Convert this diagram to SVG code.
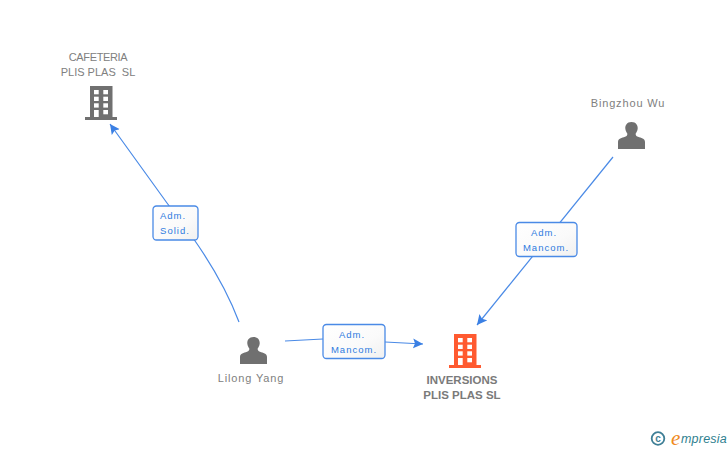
<svg xmlns="http://www.w3.org/2000/svg" width="728" height="450" viewBox="0 0 728 450">
<style>
text{font-family:"Liberation Sans",Arial,sans-serif}
.n{font-size:11px;fill:#808080;text-anchor:middle;letter-spacing:.85px}
.c{font-size:11px;fill:#808080;text-anchor:middle;white-space:pre}
.b{font-size:11.500px;fill:#7a7a7a;text-anchor:middle;font-weight:bold}
.l{font-size:9.500px;fill:#2f7be0;text-anchor:middle;letter-spacing:1px}
.e{fill:none;stroke:#4a8ae6;stroke-width:1.200}
.box{fill:url(#g);stroke:#4a8ae6;stroke-width:1.300}
</style>
<defs>
<marker id="a" markerUnits="userSpaceOnUse" markerWidth="12" markerHeight="12" refX="10" refY="5" orient="auto"><path d="M0 0L10 5L0 10L2 5Z" fill="#3b80e4"/></marker>
<linearGradient id="g" x1="0" y1="0" x2="1" y2="1"><stop offset="0" stop-color="#fff"/><stop offset=".6" stop-color="#fafafa"/><stop offset="1" stop-color="#f0f0f0"/></linearGradient>
<g id="person"><path d="M0-15C-4.800-15-6.400-11.500-6.200-8.500C-6-6-4.800-4.500-4.200-3.500C-4-2-4.500-1-6.500-.2C-9.500 1-13.500 1.500-13.500 5V12H13.500V5C13.500 1.500 9.500 1 6.500-.2C4.500-1 4-2 4.200-3.500C4.800-4.500 6-6 6.200-8.500C6.400-11.500 4.800-15 0-15Z" fill="#707070"/></g>
<g id="bld"><path d="M-11-16H11.500V15H16V18H-16V15H-11Z"/><g fill="#fff"><rect x="-7" y="-12" width="4.700" height="4.300"/><rect x="2.300" y="-12" width="4.700" height="4.300"/><rect x="-7" y="-5.300" width="4.700" height="4.300"/><rect x="2.300" y="-5.300" width="4.700" height="4.300"/><rect x="-7" y="1.300" width="4.700" height="4.300"/><rect x="2.300" y="1.300" width="4.700" height="4.300"/><rect x="-7" y="8" width="4.700" height="7"/><rect x="2.300" y="8" width="4.700" height="4.300"/></g></g>
</defs>
<g id="connectors">
<path class="e" marker-end="url(#a)" d="M239 322C225 285 205 255 193 238L167 203L110 124"/>
<path class="e" marker-end="url(#a)" d="M285 341L323 339M385 342L423 344"/>
<path class="e" marker-end="url(#a)" d="M613 157L477 325"/>
</g>
<g id="edge-solid"><rect class="box" x="153" y="206" width="45" height="34" rx="3.500"/><text class="l" x="173" y="219">Adm.</text><text class="l" x="175" y="234">Solid.</text></g>
<g id="edge-mancom-1"><rect class="box" x="323" y="324.500" width="62" height="34" rx="3.500"/><text class="l" x="352" y="338">Adm.</text><text class="l" x="354" y="353">Mancom.</text></g>
<g id="edge-mancom-2"><rect class="box" x="516" y="222.500" width="61" height="34" rx="3.500"/><text class="l" x="544" y="236">Adm.</text><text class="l" x="546" y="251">Mancom.</text></g>
<g id="node-cafeteria"><text class="c" x="98" y="61" style="letter-spacing:-.35px">CAFETERIA</text><text class="c" x="98" y="76">PLIS PLAS  SL</text><use href="#bld" x="101" y="102" fill="#707070"/></g>
<g id="node-bingzhou"><text class="n" x="628" y="107">Bingzhou Wu</text><use href="#person" x="631.500" y="137"/></g>
<g id="node-lilong"><text class="n" x="251" y="382">Lilong Yang</text><use href="#person" x="253.500" y="352"/></g>
<g id="node-inversions"><use href="#bld" x="465" y="350" fill="#ff5a30"/><text class="b" x="462" y="384">INVERSIONS</text><text class="b" x="462" y="399">PLIS PLAS SL</text></g>
<g id="logo"><circle cx="658" cy="438.500" r="6.300" fill="none" stroke="#3f7f96" stroke-width="1.800"/><text x="658" y="442" font-size="10" font-weight="bold" fill="#3f7f96" text-anchor="middle">c</text><text x="671" y="445" font-size="21" font-style="italic" fill="#f08a1d" style="font-family:'Liberation Serif',serif">e</text><text x="681" y="443" font-size="12.500" font-style="italic" fill="#2f7f8f" style="letter-spacing:.2px">mpresia</text></g>
</svg>
